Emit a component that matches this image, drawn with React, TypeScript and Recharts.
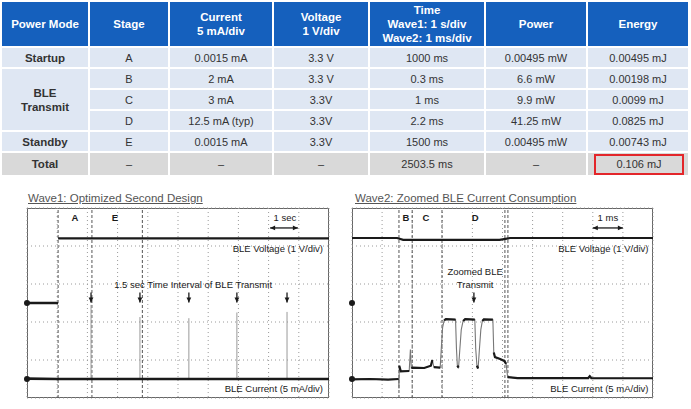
import {
  CartesianGrid,
  Line,
  LineChart,
  ReferenceDot,
  ReferenceLine,
  XAxis,
  YAxis,
} from "recharts";

// ---- table data ----
const headers = [
  "Power Mode",
  "Stage",
  "Current\n5 mA/div",
  "Voltage\n1 V/div",
  "Time\nWave1: 1 s/div\nWave2: 1 ms/div",
  "Power",
  "Energy",
];
const modeNames = ["Startup", "BLE\nTransmit", "", "", "Standby"];
const modeSpans = [1, 3, 0, 0, 1];
const stages = ["A", "B", "C", "D", "E"];
const currents = ["0.0015 mA", "2 mA", "3 mA", "12.5 mA (typ)", "0.0015 mA"];
const voltages = ["3.3 V", "3.3 V", "3.3V", "3.3V", "3.3V"];
const times = ["1000 ms", "0.3 ms", "1 ms", "2.2 ms", "1500 ms"];
const powers = ["0.00495 mW", "6.6 mW", "9.9 mW", "41.25 mW", "0.00495 mW"];
const energies = ["0.00495 mJ", "0.00198 mJ", "0.0099 mJ", "0.0825 mJ", "0.00743 mJ"];
const totals = ["Total", "–", "–", "–", "2503.5 ms", "–", "0.106 mJ"];

// ---- scope grid (divisions) ----
const divX = [0, 1, 2, 3, 4, 5, 6, 7, 8, 9, 10];
const divY = [-5, -4, -3, -2, -1, 0, 1, 2, 3, 4, 5];

// ---- wave1 (1 s/div) ----
const w1VoltTime = [0, 1.03, 1.03, 1.03, 10];
const w1VoltLevel = [0, 0, null, 3.4, 3.4];
const w1CurrTime = [0, 1.03, 4, 7, 10];
const w1CurrLevel = [-3.98, -4.0, -4.0, -4.0, -4.0];
const w1SpikeTime = [2.12, 3.74, 5.36, 6.95, 8.61];
const w1SpikeTop = [-0.1, -0.74, -0.8, -0.5, -0.47];
const w1Cursors = [1.03, 2.15, 3.82];

// ---- wave2 (1 ms/div) ----
const w2VoltTime = [0, 1.5, 1.7, 4.9, 5.25, 10];
const w2VoltLevel = [3.42, 3.42, 3.32, 3.32, 3.42, 3.42];
const w2CurrTime = [
  0, 0.6, 1.2, 1.55, 1.56, 1.57, 1.62, 1.9, 1.94, 1.97, 2.02, 2.4, 2.62, 2.67,
  2.72, 2.93, 2.97, 3.01, 3.06, 3.12, 3.44, 3.47, 3.5, 3.54, 3.58, 3.63, 3.69,
  3.76, 4.08, 4.11, 4.15, 4.19, 4.23, 4.28, 4.33, 4.38, 4.68, 4.71, 4.75, 4.92,
  5.06, 5.12, 5.17, 5.5, 7.85, 7.9, 7.95, 10,
];
const w2CurrLevel = [
  -4.02, -4.0, -4.03, -4.0, -4.5, -3.3, -3.6, -3.58, -2.45, -3.42, -3.4, -3.42,
  -3.3, -3.0, -3.38, -3.4, -2.3, -1.3, -0.92, -0.85, -0.87, -2.4, -3.3, -3.4,
  -2.5, -1.4, -0.95, -0.85, -0.87, -2.4, -3.3, -3.45, -2.5, -1.4, -0.95, -0.86,
  -0.88, -2.6, -2.85, -2.95, -3.05, -3.2, -3.9, -3.95, -3.95, -3.85, -3.95, -3.96,
];
const w2Cursors = [1.56, 2.0, 2.99, 5.08, 5.18];

type Pt = { t: number; v: number | null };

const toPoints = (ts: number[], vs: (number | null)[]): Pt[] =>
  ts.map((t, i) => ({ t, v: vs[i] }));

function spikeSegments(ts: number[], tops: number[], base: number): Pt[] {
  const out: Pt[] = [];
  ts.forEach((t, i) => {
    out.push({ t, v: base }, { t, v: tops[i] }, { t, v: null });
  });
  return out;
}

// keep only the slow parts of a trace (the fast edges show up thin and grey)
function flatParts(pts: Pt[], maxSlope: number): Pt[] {
  const out: Pt[] = [];
  pts.forEach((p, i) => {
    out.push(p);
    const n = pts[i + 1];
    if (n && p.v != null && n.v != null) {
      const slope = Math.abs((n.v - p.v) / Math.max(n.t - p.t, 1e-6));
      if (slope > maxSlope) out.push({ t: (p.t + n.t) / 2, v: null });
    }
  });
  return out;
}

const w1Volt = toPoints(w1VoltTime, w1VoltLevel);
const w1Curr = toPoints(w1CurrTime, w1CurrLevel);
const w1Spikes = spikeSegments(w1SpikeTime, w1SpikeTop, -4);
const w2Volt = toPoints(w2VoltTime, w2VoltLevel);
const w2Curr = toPoints(w2CurrTime, w2CurrLevel);
const w2CurrFlat = flatParts(w2Curr, 7);

const HEAD = "#1560bd";
const CELL = "#dfe7f3";
const TOTAL = "#d9d9d9";
const INK = "#1a1a1a";
const FONT = "'Liberation Sans', Arial, sans-serif";

const arrow = (both: boolean) => (p: any) => {
  const { x1, y1, x2, y2 } = p;
  const a = Math.atan2(y2 - y1, x2 - x1);
  const head = (x: number, y: number, ang: number) => {
    const l = 5;
    const w = 2.4;
    const bx = x - l * Math.cos(ang);
    const by = y - l * Math.sin(ang);
    return `${x},${y} ${bx - w * Math.sin(ang)},${by + w * Math.cos(ang)} ${
      bx + w * Math.sin(ang)
    },${by - w * Math.cos(ang)}`;
  };
  return (
    <g>
      <line x1={x1} y1={y1} x2={x2} y2={y2} stroke={INK} strokeWidth={1.3} />
      <polygon points={head(x2, y2, a)} fill={INK} />
      {both && <polygon points={head(x1, y1, a + Math.PI)} fill={INK} />}
    </g>
  );
};

function note(
  key: string,
  x: number,
  y: number,
  text: string,
  position: "center" | "left" = "center",
  bold = false
) {
  return (
    <ReferenceDot
      key={key}
      x={x}
      y={y}
      r={0}
      fill="none"
      stroke="none"
      label={{
        value: text,
        position,
        offset: 0,
        fontSize: 9.5,
        fontWeight: bold ? 700 : 400,
        fill: INK,
      }}
    />
  );
}

function scopeAxes() {
  return [
    <XAxis
      key="x"
      type="number"
      dataKey="t"
      domain={[0, 10]}
      ticks={divX}
      hide
      allowDataOverflow
    />,
    <YAxis
      key="y"
      type="number"
      domain={[-5, 5]}
      ticks={divY}
      hide
      allowDataOverflow
    />,
    <CartesianGrid key="g" stroke="#9a9a9a" strokeDasharray="1 3" />,
  ];
}

const M = 4;

function Wave1() {
  return (
    <LineChart
      width={302 + 2 * M}
      height={190 + 2 * M}
      margin={{ top: M, right: M, bottom: M, left: M }}
    >
      {scopeAxes()}
      {w1Cursors.map((c) => (
        <ReferenceLine key={c} x={c} stroke="#555" strokeDasharray="3 2" />
      ))}
      <Line data={w1Spikes} dataKey="v" stroke="#999" strokeWidth={1} dot={false} isAnimationActive={false} />
      <Line data={w1Volt} dataKey="v" stroke={INK} strokeWidth={2.4} dot={false} isAnimationActive={false} />
      <Line data={w1Curr} dataKey="v" stroke={INK} strokeWidth={2.6} dot={false} isAnimationActive={false} />
      <ReferenceDot x={0} y={0} r={3} fill={INK} stroke="none" />
      <ReferenceDot x={0} y={-4} r={3} fill={INK} stroke="none" />
      {w1SpikeTime.map((t) => (
        <ReferenceLine
          key={"a" + t}
          segment={[{ x: t, y: 0.55 }, { x: t, y: 0.02 }]}
          shape={arrow(false)}
        />
      ))}
      <ReferenceLine segment={[{ x: 8.05, y: 3.95 }, { x: 8.97, y: 3.95 }]} shape={arrow(true)} />
      {note("A", 1.59, 4.47, "A", "center", true)}
      {note("E", 2.91, 4.47, "E", "center", true)}
      {note("sec", 8.54, 4.5, "1 sec")}
      {note("int", 5.5, 0.95, "1.5 sec Time Interval of BLE Transmit")}
      {note("bv", 9.8, 2.84, "BLE Voltage (1 V/div)", "left")}
      {note("bc", 9.8, -4.53, "BLE Current (5 mA/div)", "left")}
    </LineChart>
  );
}

function Wave2() {
  return (
    <LineChart
      width={301 + 2 * M}
      height={190 + 2 * M}
      margin={{ top: M, right: M, bottom: M, left: M }}
    >
      {scopeAxes()}
      {w2Cursors.map((c) => (
        <ReferenceLine key={c} x={c} stroke="#555" strokeDasharray="3 2" />
      ))}
      <Line data={w2Volt} dataKey="v" stroke={INK} strokeWidth={2.2} dot={false} isAnimationActive={false} />
      <Line data={w2Curr} dataKey="v" stroke="#777" strokeWidth={1.1} dot={false} isAnimationActive={false} />
      <Line data={w2CurrFlat} dataKey="v" stroke={INK} strokeWidth={2.2} dot={false} isAnimationActive={false} />
      <ReferenceDot x={0} y={0} r={3} fill={INK} stroke="none" />
      <ReferenceDot x={0} y={-4} r={3} fill={INK} stroke="none" />
      <ReferenceLine segment={[{ x: 4.05, y: 0.55 }, { x: 4.05, y: 0.02 }]} shape={arrow(false)} />
      <ReferenceLine segment={[{ x: 8.0, y: 3.95 }, { x: 9.0, y: 3.95 }]} shape={arrow(true)} />
      {note("B", 1.79, 4.47, "B", "center", true)}
      {note("C", 2.46, 4.47, "C", "center", true)}
      {note("D", 4.09, 4.47, "D", "center", true)}
      {note("ms", 8.5, 4.5, "1 ms")}
      {note("z1", 4.09, 1.63, "Zoomed BLE")}
      {note("z2", 4.09, 0.98, "Transmit")}
      {note("bv", 9.85, 2.84, "BLE Voltage (1 V/div)", "left")}
      {note("bc", 9.85, -4.53, "BLE Current (5 mA/div)", "left")}
    </LineChart>
  );
}

const colWidths = [86, 78, 102, 94, 114, 100, 100];

export default function App() {
  const td = (bg: string, extra: React.CSSProperties = {}): React.CSSProperties => ({
    background: bg,
    color: "#333",
    fontSize: 11,
    textAlign: "center",
    padding: 0,
    height: 19,
    whiteSpace: "pre-line",
    ...extra,
  });
  const bodyRows = stages.map((s, r) => (
    <tr key={s}>
      {modeSpans[r] > 0 && (
        <td
          rowSpan={modeSpans[r]}
          style={td(CELL, { fontWeight: 700, fontSize: 11.5, lineHeight: "14px" })}
        >
          {modeNames[r]}
        </td>
      )}
      <td style={td(CELL)}>{s}</td>
      <td style={td(CELL)}>{currents[r]}</td>
      <td style={td(CELL)}>{voltages[r]}</td>
      <td style={td(CELL)}>{times[r]}</td>
      <td style={td(CELL)}>{powers[r]}</td>
      <td style={td(CELL)}>{energies[r]}</td>
    </tr>
  ));

  return (
    <div
      style={{
        position: "absolute",
        left: 0,
        top: 0,
        width: 691,
        height: 409,
        background: "#fff",
        fontFamily: FONT,
        overflow: "hidden",
      }}
    >
      <table
        style={{
          position: "absolute",
          left: 0,
          top: 0,
          width: 690,
          tableLayout: "fixed",
          borderCollapse: "separate",
          borderSpacing: 2,
        }}
      >
        <colgroup>
          {colWidths.map((w, i) => (
            <col key={i} style={{ width: w }} />
          ))}
        </colgroup>
        <tbody>
          <tr>
            {headers.map((h) => (
              <td
                key={h}
                style={{
                  background: HEAD,
                  color: "#fff",
                  fontWeight: 700,
                  fontSize: 11.5,
                  lineHeight: "14px",
                  textAlign: "center",
                  padding: 0,
                  height: 44,
                  whiteSpace: "pre-line",
                }}
              >
                {h}
              </td>
            ))}
          </tr>
          {bodyRows}
          <tr>
            {totals.map((v, i) => (
              <td
                key={i}
                style={td(TOTAL, {
                  height: 22,
                  fontWeight: i === 0 ? 700 : 400,
                  fontSize: i === 0 ? 11.5 : 11,
                })}
              >
                {i === totals.length - 1 ? (
                  <div
                    style={{
                      boxSizing: "border-box",
                      height: 21,
                      margin: "1px 4px 0 6px",
                      border: "2px solid #e3262a",
                      lineHeight: "17px",
                    }}
                  >
                    {v}
                  </div>
                ) : (
                  v
                )}
              </td>
            ))}
          </tr>
        </tbody>
      </table>

      <div
        style={{
          position: "absolute",
          left: 28,
          top: 192,
          fontSize: 11.5,
          color: "#555",
          textDecoration: "underline",
        }}
      >
        Wave1: Optimized Second Design
      </div>
      <div
        style={{
          position: "absolute",
          left: 355,
          top: 192,
          fontSize: 11.5,
          color: "#555",
          textDecoration: "underline",
        }}
      >
        Wave2: Zoomed BLE Current Consumption
      </div>

      <div
        style={{
          position: "absolute",
          left: 27,
          top: 208,
          width: 302,
          height: 190,
          border: "1px solid #666",
          boxSizing: "border-box",
        }}
      />
      <div
        style={{
          position: "absolute",
          left: 352,
          top: 208,
          width: 301,
          height: 190,
          border: "1px solid #666",
          boxSizing: "border-box",
        }}
      />
      <div style={{ position: "absolute", left: 27 - M, top: 208 - M }}>
        <Wave1 />
      </div>
      <div style={{ position: "absolute", left: 352 - M, top: 208 - M }}>
        <Wave2 />
      </div>
    </div>
  );
}
